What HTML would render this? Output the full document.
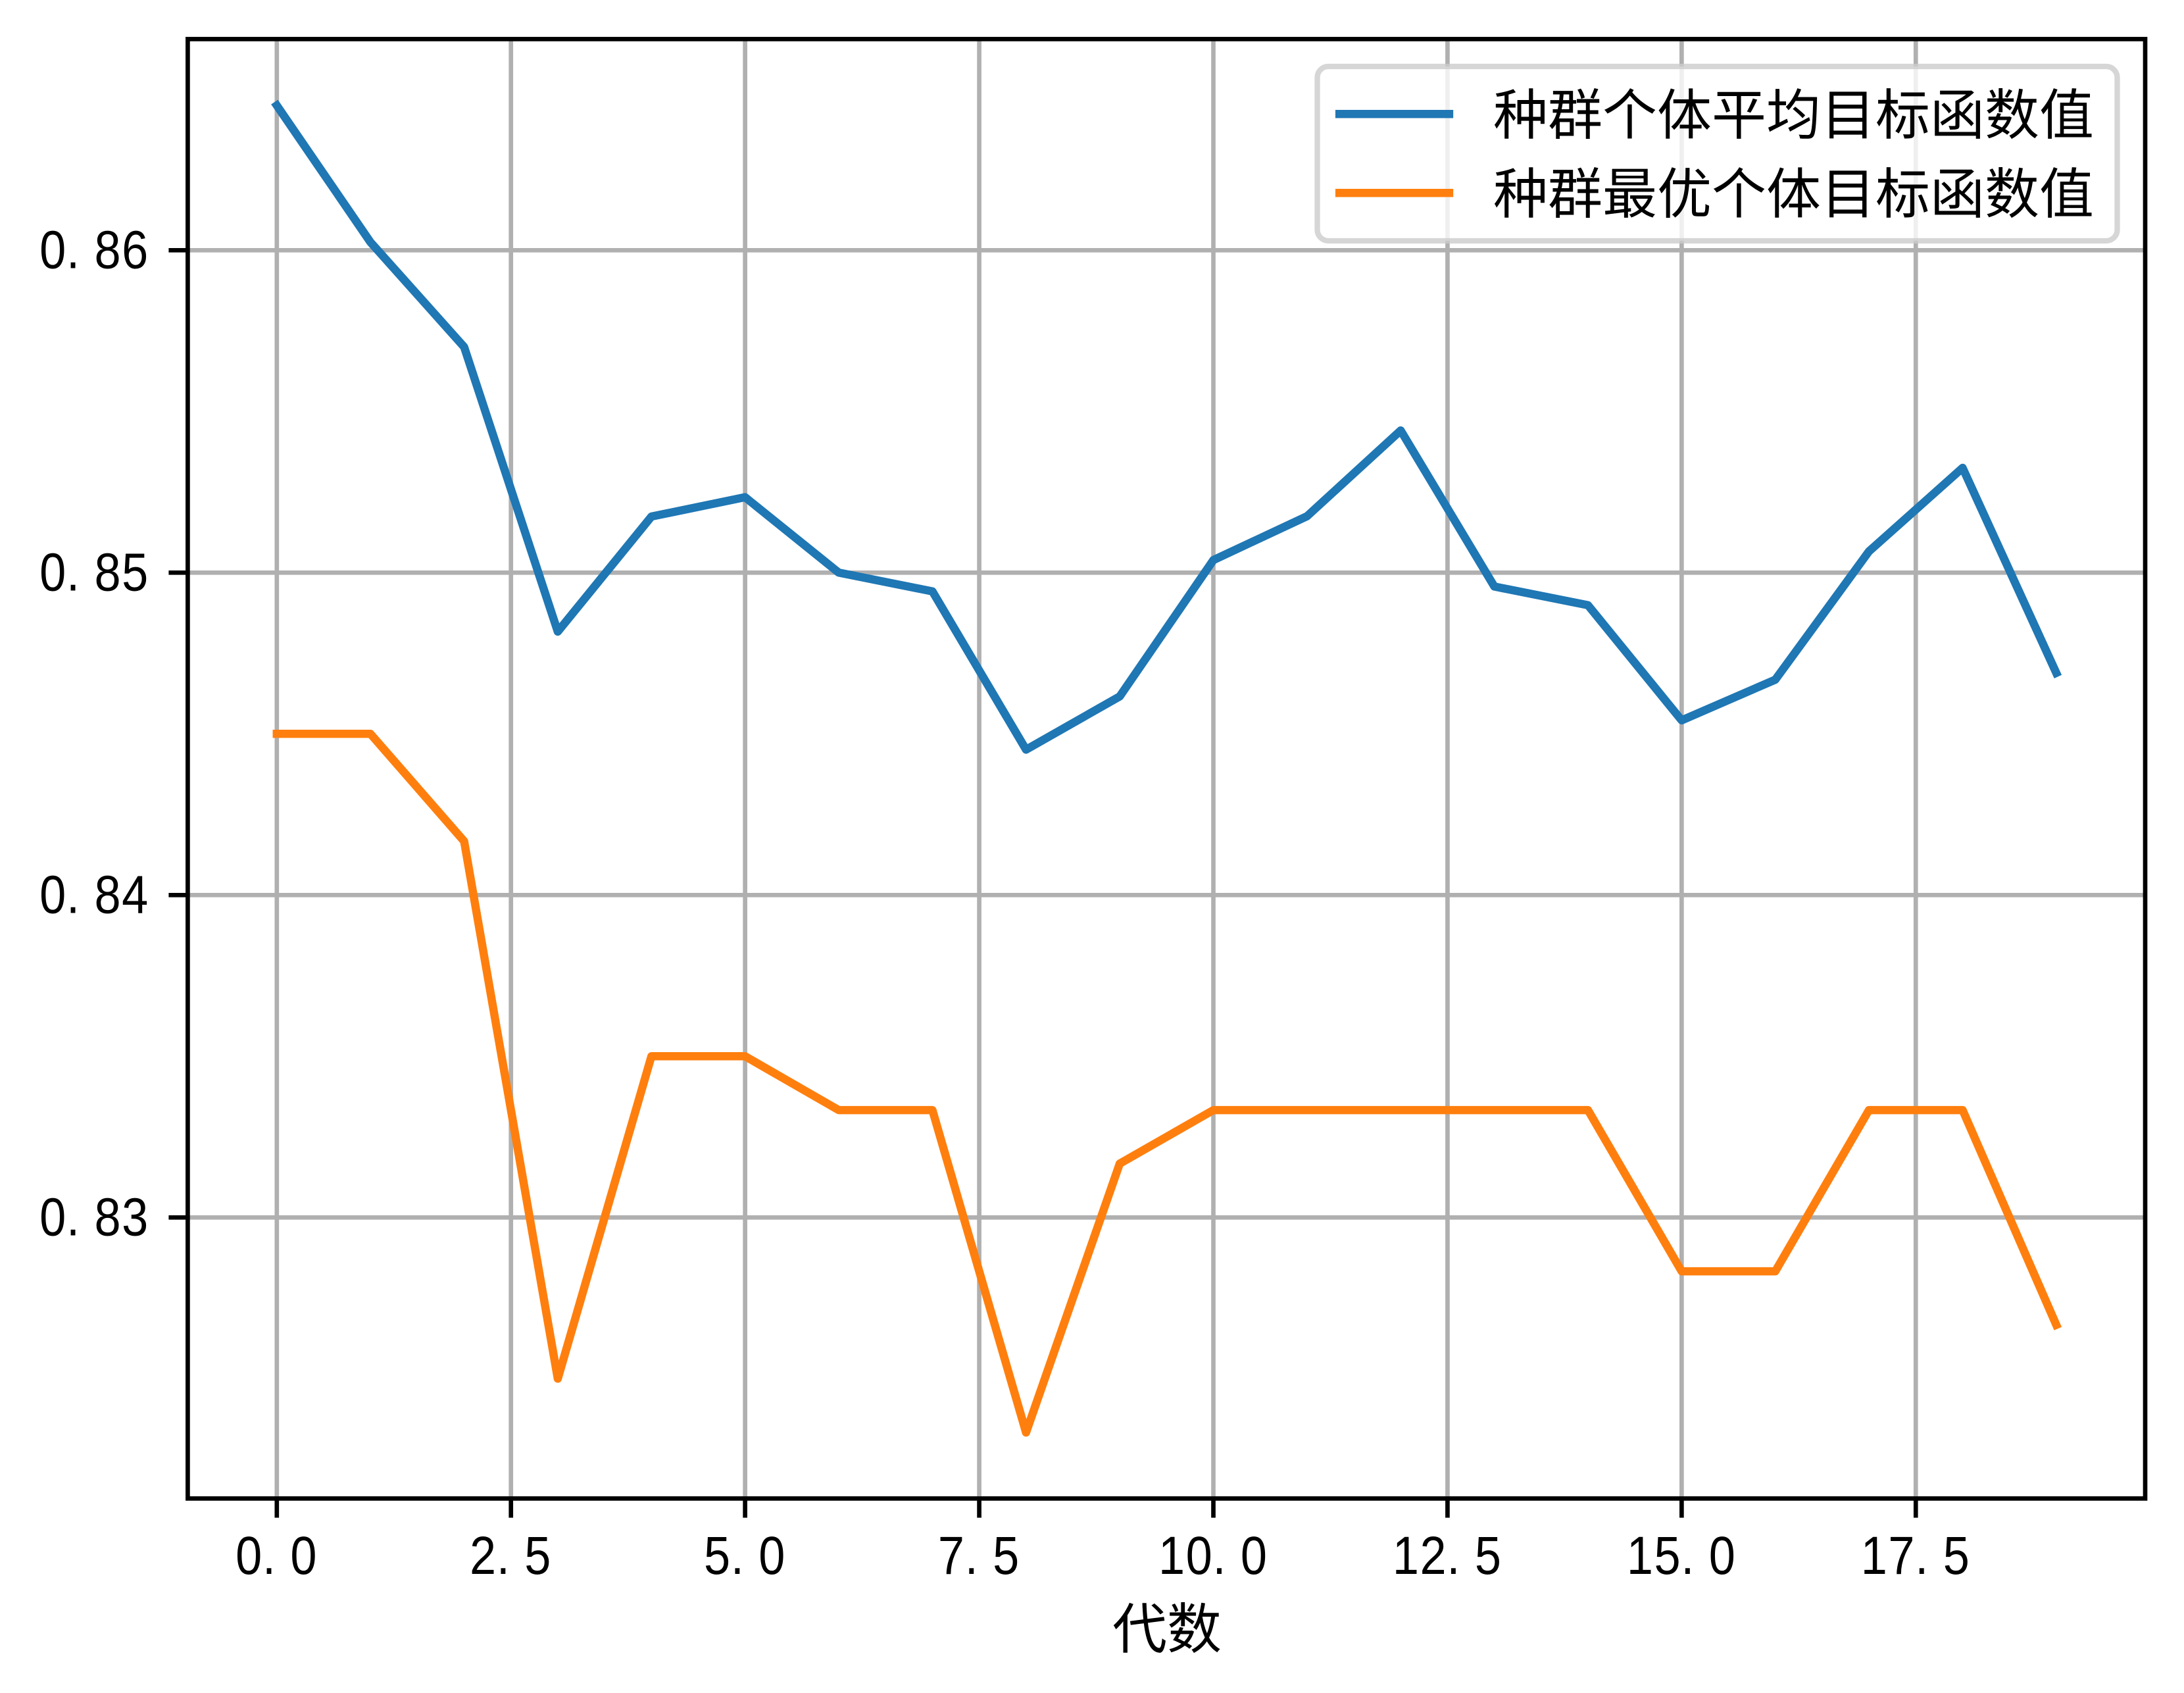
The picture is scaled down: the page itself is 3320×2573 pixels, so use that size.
<!DOCTYPE html>
<html lang="zh">
<head>
<meta charset="utf-8">
<title>种群目标函数值</title>
<style>
html,body{margin:0;padding:0;background:#fff;width:3320px;height:2573px;overflow:hidden}
svg{display:block}
.cjk{font-family:"Liberation Sans","Noto Sans CJK SC",sans-serif;font-size:83px;fill:#000}
.num{font-family:"Liberation Sans",sans-serif;font-size:82px;fill:#000}
</style>
</head>
<body>
<svg id="chart" xmlns="http://www.w3.org/2000/svg" width="3320" height="2573" viewBox="0 0 3320 2573">
  <rect x="0" y="0" width="3320" height="2573" fill="#ffffff"/>
  <g id="grid"></g>
  <g id="series"></g>
  <rect x="285.4" y="59.4" width="2975.6" height="2218" fill="none" stroke="#000" stroke-width="6.67"/>
  <g id="ticks"></g>
  <g id="labels"></g>
  <text class="cjk" x="1774" y="2505" text-anchor="middle">代数</text>
  <g>
    <rect x="2002.5" y="101" width="1216" height="265" rx="16.7" ry="16.7" fill="#ffffff" fill-opacity="0.8" stroke="#cccccc" stroke-opacity="0.8" stroke-width="8.33"/>
    <line id="legend-line-a" x1="2036.2" x2="2202.9" y1="173.3" y2="173.3" stroke-width="12.5" stroke-linecap="square"/>
    <text class="cjk" x="2270" y="204">种群个体平均目标函数值</text>
    <line id="legend-line-b" x1="2036.2" x2="2202.9" y1="293.3" y2="293.3" stroke-width="12.5" stroke-linecap="square"/>
    <text class="cjk" x="2270" y="324">种群最优个体目标函数值</text>
  </g>
</svg>
<script>
// Chart data
const generations = [0,1,2,3,4,5,6,7,8,9,10,11,12,13,14,15,16,17,18,19];
const averageValues = [0.86449,0.86025,0.85700,0.84817,0.85174,0.85234,0.85000,0.84942,0.84451,0.84616,0.85039,0.85175,0.85441,0.84957,0.84899,0.84542,0.84668,0.85066,0.85325,0.84689];
const bestValues = [0.84500,0.84500,0.84167,0.82500,0.83500,0.83500,0.83333,0.83333,0.82333,0.83167,0.83333,0.83333,0.83333,0.83333,0.83333,0.82833,0.82833,0.83333,0.83333,0.82667];
const xTickValues = [0,2.5,5,7.5,10,12.5,15,17.5];
const xTickLabels = ["0.0","2.5","5.0","7.5","10.0","12.5","15.0","17.5"];
const yTickValues = [0.83,0.84,0.85,0.86];
const yTickLabels = ["0.83","0.84","0.85","0.86"];
const seriesColors = ["#1f77b4","#ff7f0e"];

// Axis functions
function xScale(v){ return 420.8 + v * 142.37; }
function yScale(v){ return 870.3 - (v - 0.85) * 49000; }

const NS = "http://www.w3.org/2000/svg";
const gridGroup = document.getElementById("grid");
const seriesGroup = document.getElementById("series");
const tickGroup = document.getElementById("ticks");
const labelGroup = document.getElementById("labels");
const GLYPH_SCALE = 0.88;
const CELL = 41.65;
const GLYPH_WIDTH = 40.1;

function drawLine(parent, x1, y1, x2, y2, color, width){
  const l = document.createElementNS(NS, "line");
  l.setAttribute("x1", x1);
  l.setAttribute("y1", y1);
  l.setAttribute("x2", x2);
  l.setAttribute("y2", y2);
  l.setAttribute("stroke", color);
  l.setAttribute("stroke-width", width);
  parent.appendChild(l);
  return l;
}

function drawLabel(str, startX, baseline){
  const t = document.createElementNS(NS, "text");
  const xs = [];
  for (let i = 0; i < str.length; i++) {
    const cell = startX + i * CELL;
    const px = str[i] === "." ? cell : cell + (CELL - GLYPH_WIDTH) / 2;
    xs.push((px / GLYPH_SCALE).toFixed(2));
  }
  t.setAttribute("class", "num");
  t.setAttribute("x", xs.join(" "));
  t.setAttribute("y", baseline);
  t.setAttribute("transform", "scale(" + GLYPH_SCALE + ",1)");
  t.textContent = str;
  labelGroup.appendChild(t);
  return t;
}

xTickValues.forEach(function(v, i){
  const gx = drawLine(gridGroup, xScale(v), 59.4, xScale(v), 2277.4, "#b0b0b0", 6.67);
  
  
  const tx = drawLine(tickGroup, xScale(v), 2277.4, xScale(v), 2306.6, "#000", 6.67);
  
  
  const label = xTickLabels[i];
  const lx = drawLabel(label, xScale(v) - label.length * CELL / 2 - 1, 2392);
  
  
});

yTickValues.forEach(function(v, i){
  const gy = drawLine(gridGroup, 285.4, yScale(v), 3261, yScale(v), "#b0b0b0", 6.67);
  
  
  const ty = drawLine(tickGroup, 285.4, yScale(v), 256.4, yScale(v), "#000", 6.67);
  
  
  const label = yTickLabels[i];
  const ly = drawLabel(label, 226 - label.length * CELL, yScale(v) + 27);
  
  
});

function drawSeries(values, color){
  const p = document.createElementNS(NS, "polyline");
  const pts = values.map(function(v, i){
    return xScale(generations[i]).toFixed(2) + "," + yScale(v).toFixed(2);
  });
  p.setAttribute("points", pts.join(" "));
  p.setAttribute("fill", "none");
  p.setAttribute("stroke", color);
  p.setAttribute("stroke-width", 12.5);
  p.setAttribute("stroke-linecap", "square");
  p.setAttribute("stroke-linejoin", "round");
  seriesGroup.appendChild(p);
  return p;
}

const avgLine = drawSeries(averageValues, seriesColors[0]);


const bestLine = drawSeries(bestValues, seriesColors[1]);



document.getElementById("legend-line-a").setAttribute("stroke", seriesColors[0]);
document.getElementById("legend-line-b").setAttribute("stroke", seriesColors[1]);
</script>
</body>
</html>
